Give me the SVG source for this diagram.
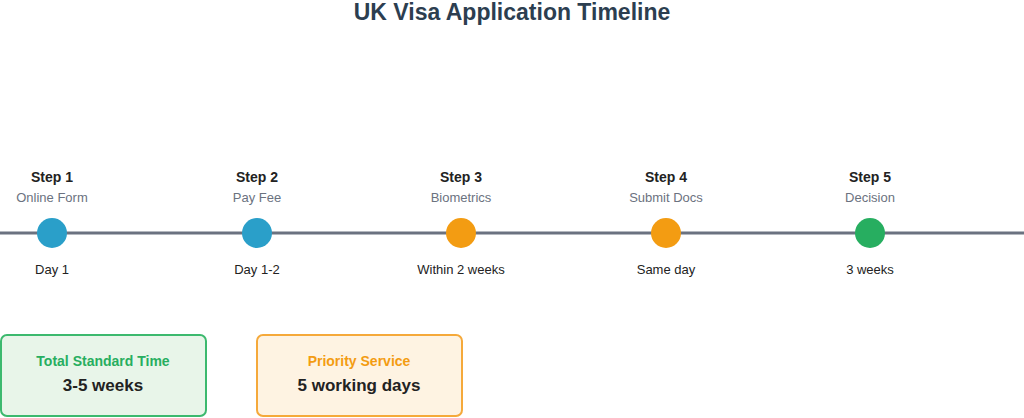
<svg xmlns="http://www.w3.org/2000/svg" width="1024" height="418" viewBox="0 0 1024 418">
<style>
text{font-family:"Liberation Sans",Arial,sans-serif;text-anchor:middle}
.t{font-size:23px;font-weight:bold;fill:#2c3e50}
.s{font-size:14px;font-weight:bold;fill:#222}
.d{font-size:13px;fill:#6b7280}
.w{font-size:13px;fill:#222}
.bh{font-size:14px;font-weight:bold}
.bv{font-size:17px;font-weight:bold;fill:#222}
</style>
<rect width="1024" height="418" fill="#fff"/>
<text class="t" x="512" y="20">UK Visa Application Timeline</text>
<g id="connectors"><line x1="0" y1="233" x2="1024" y2="233" stroke="#6b7280" stroke-width="3"/></g>
<g id="step1"><text class="s" x="52" y="182">Step 1</text><text class="d" x="52" y="202">Online Form</text><circle cx="52" cy="233" r="15" fill="#2a9fc9"/><text class="w" x="52" y="274">Day 1</text></g>
<g id="step2"><text class="s" x="257" y="182">Step 2</text><text class="d" x="257" y="202">Pay Fee</text><circle cx="257" cy="233" r="15" fill="#2a9fc9"/><text class="w" x="257" y="274">Day 1-2</text></g>
<g id="step3"><text class="s" x="461" y="182">Step 3</text><text class="d" x="461" y="202">Biometrics</text><circle cx="461" cy="233" r="15" fill="#f39c12"/><text class="w" x="461" y="274">Within 2 weeks</text></g>
<g id="step4"><text class="s" x="666" y="182">Step 4</text><text class="d" x="666" y="202">Submit Docs</text><circle cx="666" cy="233" r="15" fill="#f39c12"/><text class="w" x="666" y="274">Same day</text></g>
<g id="step5"><text class="s" x="870" y="182">Step 5</text><text class="d" x="870" y="202">Decision</text><circle cx="870" cy="233" r="15" fill="#27ae60"/><text class="w" x="870" y="274">3 weeks</text></g>
<g id="standard"><rect x="1" y="335" width="205" height="81" rx="6" fill="#e8f5e9" stroke="#3cb96e" stroke-width="2"/><text class="bh" x="103" y="366" fill="#27ae60">Total Standard Time</text><text class="bv" x="103" y="391">3-5 weeks</text></g>
<g id="priority"><rect x="257" y="335" width="205" height="81" rx="6" fill="#fef3e2" stroke="#f5a93a" stroke-width="2"/><text class="bh" x="359" y="366" fill="#f39c12">Priority Service</text><text class="bv" x="359" y="391">5 working days</text></g>
</svg>
